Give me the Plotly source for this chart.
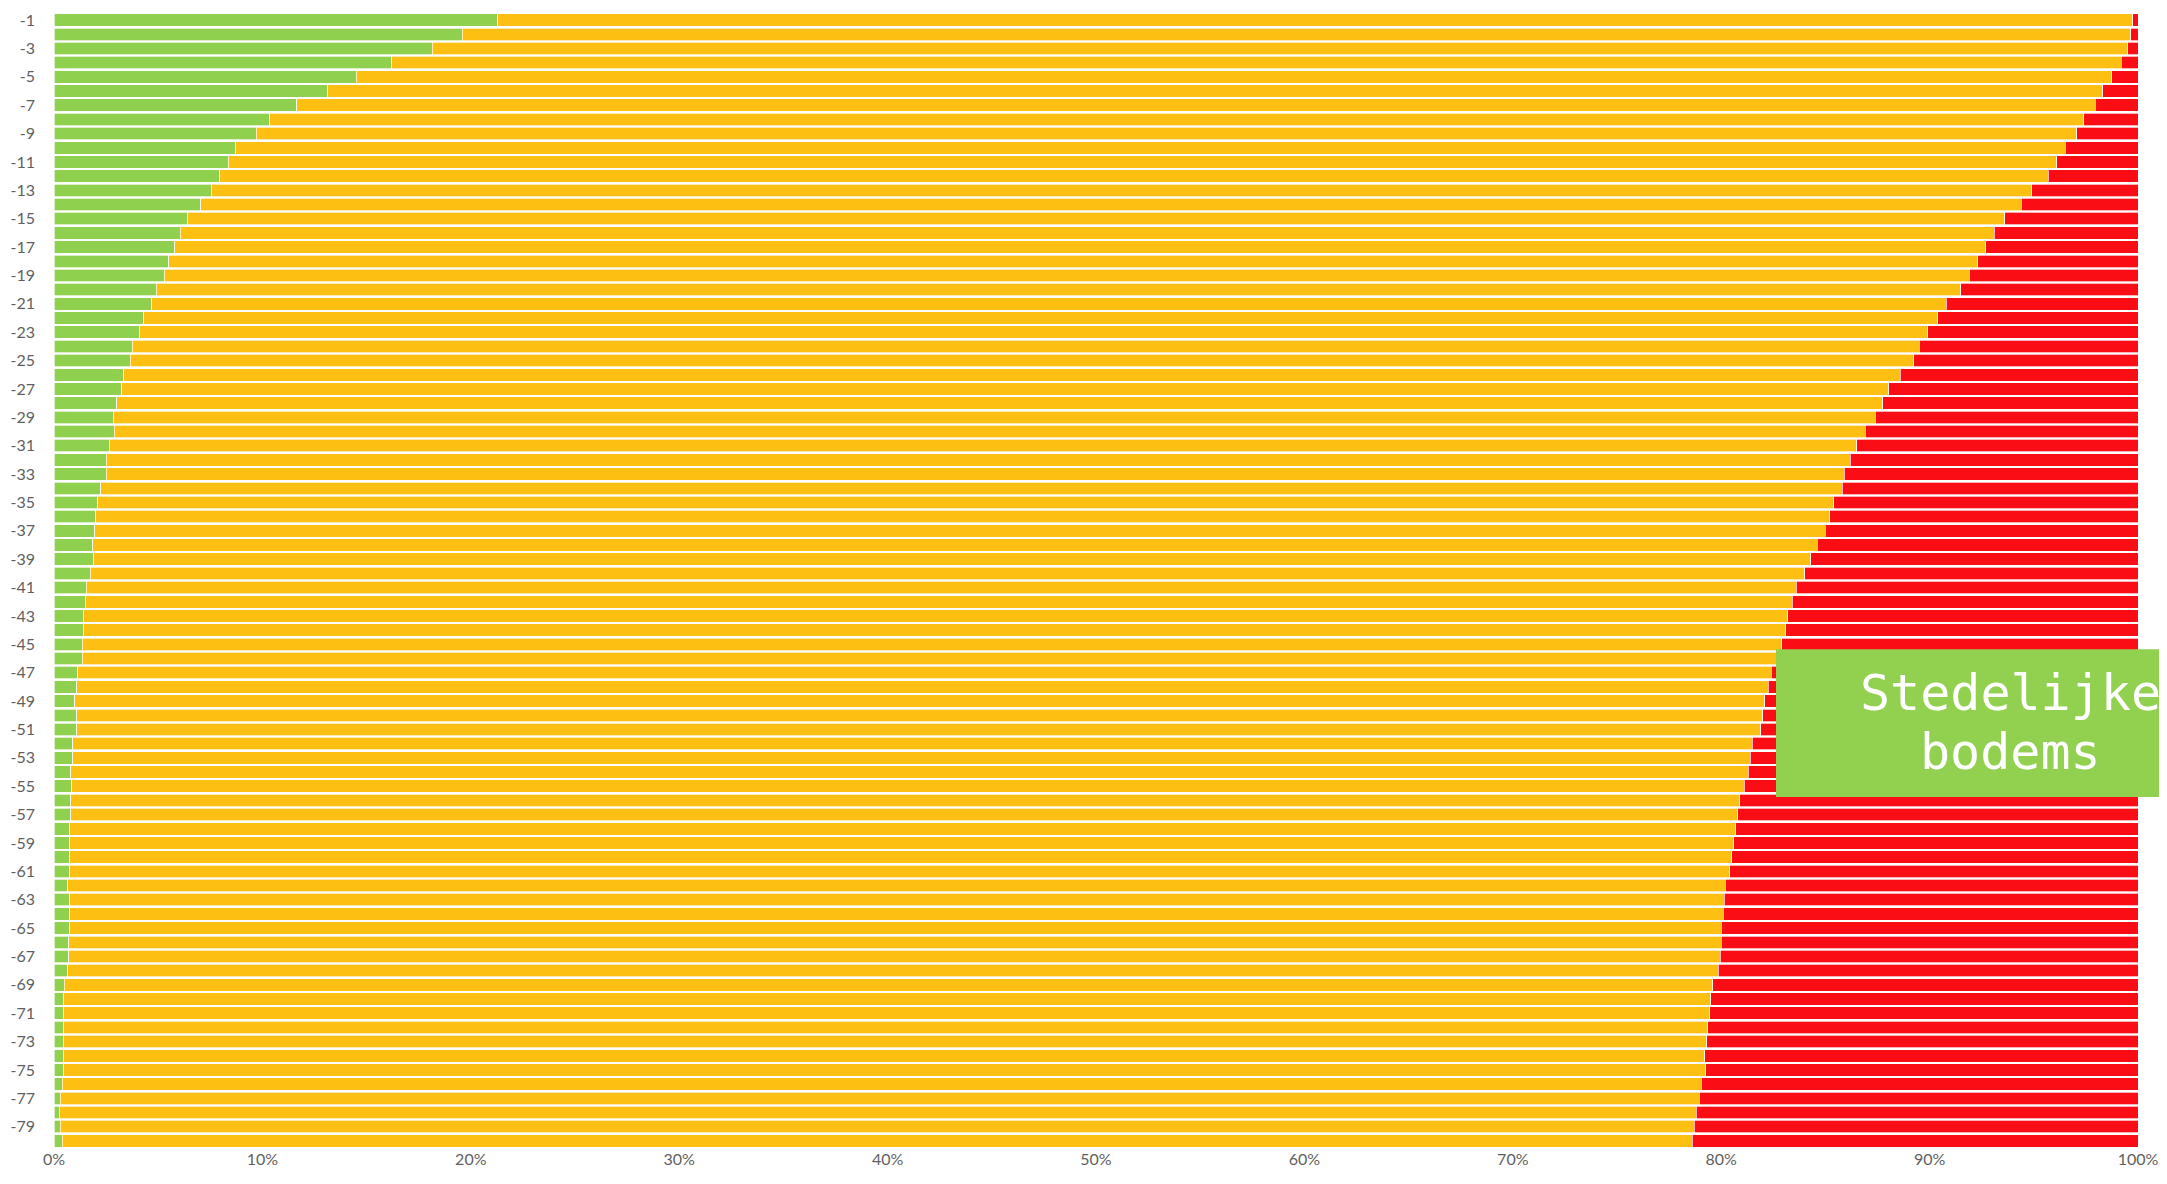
import plotly.graph_objects as go

depths = [f"-{i}" for i in range(1, 81)]
tick_labels = [f"-{i}" for i in range(1, 81, 2)]

green = [21.3, 19.6, 18.15, 16.2, 14.5, 13.1, 11.65, 10.35, 9.7, 8.7, 8.35, 7.95, 7.55, 7.05, 6.4, 6.05, 5.8, 5.5, 5.3, 4.9,
         4.7, 4.3, 4.1, 3.75, 3.65, 3.35, 3.25, 3.0, 2.85, 2.9, 2.65, 2.5, 2.5, 2.25, 2.1, 2.0, 1.95, 1.85, 1.9, 1.75,
         1.55, 1.5, 1.4, 1.4, 1.35, 1.35, 1.15, 1.1, 1.0, 1.1, 1.1, 0.9, 0.9, 0.8, 0.85, 0.8, 0.8, 0.75, 0.75, 0.75,
         0.75, 0.65, 0.75, 0.75, 0.75, 0.7, 0.7, 0.65, 0.5, 0.45, 0.45, 0.45, 0.45, 0.45, 0.45, 0.4, 0.3, 0.25, 0.3, 0.4]

orange = [78.45, 80.05, 81.35, 83.0, 84.25, 85.2, 86.3, 87.05, 87.35, 87.8, 87.75, 87.75, 87.35, 87.35, 87.2, 87.05, 86.9, 86.8, 86.6, 86.6,
          86.1, 86.1, 85.8, 85.75, 85.6, 85.25, 84.8, 84.75, 84.55, 84.0, 83.85, 83.7, 83.4, 83.55, 83.3, 83.2, 83.05, 82.75, 82.4, 82.25,
          82.05, 81.9, 81.8, 81.7, 81.55, 81.35, 81.25, 81.15, 81.1, 80.9, 80.8, 80.6, 80.5, 80.5, 80.25, 80.1, 80.0, 79.95, 79.85, 79.75,
          79.65, 79.55, 79.4, 79.35, 79.25, 79.3, 79.25, 79.2, 79.1, 79.05, 79.0, 78.9, 78.85, 78.75, 78.8, 78.65, 78.65, 78.55, 78.4, 78.2]

red = [0.25, 0.35, 0.5, 0.8, 1.25, 1.7, 2.05, 2.6, 2.95, 3.5, 3.9, 4.3, 5.1, 5.6, 6.4, 6.9, 7.3, 7.7, 8.1, 8.5,
       9.2, 9.6, 10.1, 10.5, 10.75, 11.4, 11.95, 12.25, 12.6, 13.1, 13.5, 13.8, 14.1, 14.2, 14.6, 14.8, 15.0, 15.4, 15.7, 16.0,
       16.4, 16.6, 16.8, 16.9, 17.1, 17.3, 17.6, 17.75, 17.9, 18.0, 18.1, 18.5, 18.6, 18.7, 18.9, 19.1, 19.2, 19.3, 19.4, 19.5,
       19.6, 19.8, 19.85, 19.9, 20.0, 20.0, 20.05, 20.15, 20.4, 20.5, 20.55, 20.65, 20.7, 20.8, 20.75, 20.95, 21.05, 21.2, 21.3, 21.4]

x_ticks = list(range(0, 101, 10))
x_tick_text = [f"{v}%" for v in x_ticks]

colors = {"green": "#8FD14F", "orange": "#FDC012", "red": "#FB0D16"}

fig = go.Figure()
for name, vals in [("green", green), ("orange", orange), ("red", red)]:
    fig.add_trace(go.Bar(
        y=depths, x=vals, orientation="h", name=name,
        marker=dict(color=colors[name], line=dict(color="rgba(255,255,255,0.85)", width=0.8)),
        showlegend=False,
    ))

tick_font = dict(family="Lato, 'Open Sans', sans-serif", size=16, color="#5f5f5f")

fig.update_layout(
    barmode="stack",
    bargap=0.12,
    width=2159, height=1176,
    margin=dict(l=46, r=29, t=2, b=36),
    paper_bgcolor="white", plot_bgcolor="white",
    xaxis=dict(range=[0, 100], tickmode="array", tickvals=x_ticks, ticktext=x_tick_text,
               showgrid=False, zeroline=False, showline=False, tickfont=tick_font, ticks=""),
    yaxis=dict(categoryorder="array", categoryarray=depths, autorange="reversed",
               tickmode="array", tickvals=tick_labels, ticktext=tick_labels, showgrid=False,
               zeroline=False, showline=False, tickfont=tick_font, ticks="",
               ticklabelstandoff=18),
)

fig.add_shape(type="rect", xref="paper", yref="paper",
              x0=0.8263, x1=1.02, y0=0.3093, y1=0.4394,
              fillcolor="#92D050", line=dict(width=0), layer="above")

label_font = dict(family="DejaVu Sans Mono", size=50, color="white")
fig.add_annotation(xref="paper", yref="paper", x=0.9386, y=(1148 - 692) / 1138,
                   text="Stedelijke", showarrow=False, font=label_font,
                   xanchor="center", yanchor="middle")
fig.add_annotation(xref="paper", yref="paper", x=0.9386, y=(1148 - 751) / 1138,
                   text="bodems", showarrow=False, font=label_font,
                   xanchor="center", yanchor="middle")

fig.write_html("out.html")
